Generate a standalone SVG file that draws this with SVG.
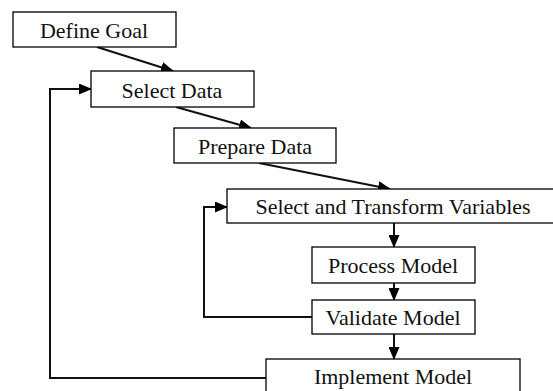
<svg xmlns="http://www.w3.org/2000/svg" width="553" height="391" viewBox="0 0 553 391">
  <style>
    .box { fill: #ffffff; stroke: #000000; stroke-width: 1.3; }
    .label { font-family: "Liberation Serif", "Times New Roman", serif; font-size: 22px; fill: #111111; text-anchor: middle; }
    .link { fill: none; stroke: #111111; stroke-width: 2; }
  </style>
  <defs>
    <marker id="arrow" markerUnits="userSpaceOnUse" markerWidth="13" markerHeight="11" refX="12" refY="5.5" orient="auto">
      <path d="M0,0 L13,5.5 L0,11 z" fill="#000000"/>
    </marker>
  </defs>
  <rect width="553" height="391" fill="#ffffff"/>

  <!-- connectors -->
  <g id="connectors">
    <line class="link" x1="97" y1="47" x2="173" y2="71" marker-end="url(#arrow)"/>
    <line class="link" x1="176" y1="107" x2="251" y2="128" marker-end="url(#arrow)"/>
    <line class="link" x1="259" y1="163" x2="390" y2="189" marker-end="url(#arrow)"/>
    <line class="link" x1="394" y1="223" x2="394" y2="247" marker-end="url(#arrow)"/>
    <line class="link" x1="394" y1="283" x2="394" y2="300" marker-end="url(#arrow)"/>
    <line class="link" x1="394" y1="334" x2="394" y2="359" marker-end="url(#arrow)"/>
    <!-- validation loops back to variable selection -->
    <polyline class="link" points="312,317 204,317 204,207 227,207" marker-end="url(#arrow)"/>
    <!-- implementation loops back to data selection -->
    <polyline class="link" points="266,378 50,378 50,89 91,89" marker-end="url(#arrow)"/>
  </g>

  <g id="define-goal">
    <rect class="box" x="13" y="12" width="163" height="35"/>
    <text class="label" x="94" y="38">Define Goal</text>
  </g>
  <g id="select-data">
    <rect class="box" x="91" y="71" width="163" height="36"/>
    <text class="label" x="172" y="98">Select Data</text>
  </g>
  <g id="prepare-data">
    <rect class="box" x="174" y="128" width="162" height="35"/>
    <text class="label" x="255" y="154">Prepare Data</text>
  </g>
  <g id="select-transform">
    <rect class="box" x="227" y="189" width="335" height="34"/>
    <text class="label" x="393" y="214">Select and Transform Variables</text>
  </g>
  <g id="process-model">
    <rect class="box" x="312" y="247" width="163" height="36"/>
    <text class="label" x="393" y="273">Process Model</text>
  </g>
  <g id="validate-model">
    <rect class="box" x="312" y="300" width="163" height="34"/>
    <text class="label" x="393" y="325">Validate Model</text>
  </g>
  <g id="implement-model">
    <rect class="box" x="266" y="359" width="254" height="40"/>
    <text class="label" x="393" y="384">Implement Model</text>
  </g>
</svg>
